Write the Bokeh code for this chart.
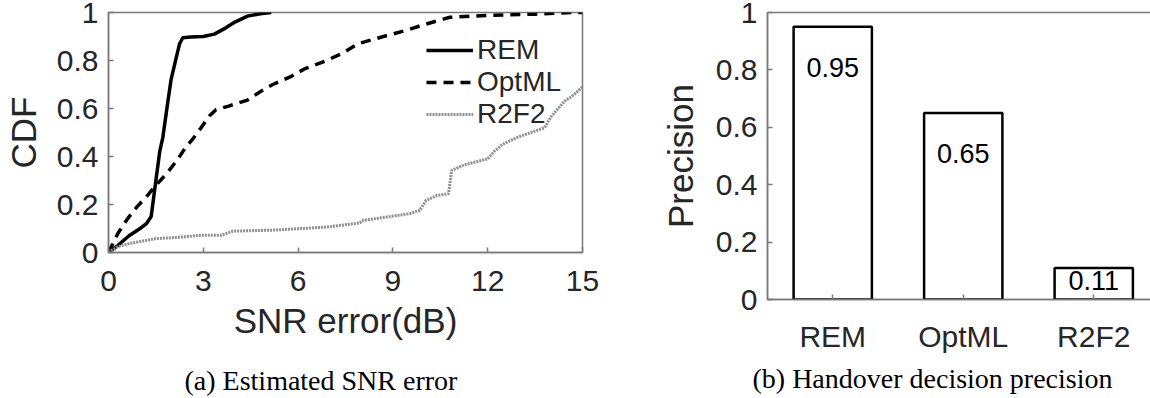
from bokeh.plotting import figure
from bokeh.layouts import row
from bokeh.models import (FixedTicker, Legend, LegendItem, Title,
                          ColumnDataSource, Range1d)
from bokeh.embed import file_html
from bokeh.resources import INLINE
from bokeh.core.properties import value

# ---------------- data ----------------
rem_x = [0, 0.3, 0.65, 1.0, 1.2, 1.35, 1.5, 1.62, 1.72, 1.88, 1.98, 2.14, 2.25, 2.35,
         2.6, 3.0, 3.35, 3.7, 4.0, 4.4, 4.8, 5.15]
rem_y = [0, 0.03, 0.07, 0.10, 0.12, 0.15, 0.30, 0.42, 0.48, 0.63, 0.72, 0.81, 0.87, 0.895,
         0.898, 0.90, 0.91, 0.935, 0.96, 0.985, 0.995, 1.0]

optml_x = [0, 0.3, 0.6, 0.9, 1.25, 1.5, 1.85, 2.2, 2.45, 2.65, 2.93, 3.2, 3.4, 3.8, 4.4,
           4.8, 5.2, 5.8, 6.2, 6.9, 7.4, 7.9, 8.7, 9.4, 10.0, 10.8, 11.5, 12.5, 13.5, 14.7, 15]
optml_y = [0, 0.08, 0.14, 0.19, 0.24, 0.28, 0.33, 0.39, 0.44, 0.47, 0.52, 0.57, 0.595, 0.61,
           0.635, 0.67, 0.70, 0.735, 0.765, 0.80, 0.83, 0.87, 0.90, 0.925, 0.95, 0.98, 0.985,
           0.99, 0.993, 1.0, 1.0]

r2f2_x = [0, 0.28, 0.65, 1.5, 2.1, 2.96, 3.57, 3.94, 5.15, 6.13, 6.98, 7.95, 8.07, 8.81,
          9.54, 9.85, 10.05, 10.4, 10.76, 10.86, 11.25, 12.0, 12.2, 12.46, 12.94, 13.8,
          14.0, 14.43, 14.66, 15.0]
r2f2_y = [0, 0.024, 0.037, 0.058, 0.062, 0.072, 0.072, 0.089, 0.093, 0.10, 0.107, 0.123,
          0.134, 0.148, 0.162, 0.176, 0.217, 0.238, 0.245, 0.342, 0.365, 0.39, 0.42, 0.45,
          0.48, 0.52, 0.565, 0.63, 0.65, 0.69]

cdf_xticks = [0, 3, 6, 9, 12, 15]
unit_yticks = [0, 0.2, 0.4, 0.6, 0.8, 1]

categories = ["REM", "OptML", "R2F2"]
precision = [0.95, 0.65, 0.11]
precision_text = ["0.95", "0.65", "0.11"]

# ---------------- style ----------------
FONT = "Liberation Sans"
SERIF = "Liberation Serif"
AX = "#7a7a7a"
TXT = "#262626"
TICK_FS = "30px"
LABEL_FS = "35px"


def style_axis(ax):
    ax.axis_line_color = AX
    ax.axis_line_width = 1.5
    ax.major_tick_line_color = AX
    ax.major_tick_line_width = 1.5
    ax.major_tick_in = 5
    ax.major_tick_out = 0
    ax.minor_tick_line_color = None
    ax.major_label_text_font = FONT
    ax.major_label_text_font_size = TICK_FS
    ax.major_label_text_color = TXT
    ax.axis_label_text_font = FONT
    ax.axis_label_text_font_size = LABEL_FS
    ax.axis_label_text_font_style = "normal"
    ax.axis_label_text_color = TXT


# ---------------- left: CDF ----------------
p1 = figure(frame_width=474, frame_height=240, min_border_left=104, min_border_top=12,
            min_border_right=30, min_border_bottom=146,
            x_range=Range1d(0, 15), y_range=Range1d(0, 1),
            output_backend="svg", toolbar_location=None, tools="")
p1.outline_line_color = AX
p1.outline_line_width = 1.5
p1.grid.visible = False
p1.background_fill_color = "white"
p1.border_fill_color = "white"

for ax in p1.xaxis:
    style_axis(ax)
    ax.ticker = FixedTicker(ticks=cdf_xticks)
    ax.axis_label = "SNR error(dB)"
    ax.major_label_standoff = 18
    ax.axis_label_standoff = 7
for ax in p1.yaxis:
    style_axis(ax)
    ax.ticker = FixedTicker(ticks=unit_yticks)
    ax.axis_label = "CDF"
    ax.major_label_standoff = 10
    ax.axis_label_standoff = 11
    ax.major_label_overrides = {0: "0", 1: "1"}

r_rem = p1.line(rem_x, rem_y, line_color="black", line_width=3.5)
r_opt = p1.line(optml_x, optml_y, line_color="black", line_width=3.5, line_dash="10 7")
r_r2 = p1.line(r2f2_x, r2f2_y, line_color="#8f8f8f", line_width=3, line_dash="2 1")

legend = Legend(items=[LegendItem(label="REM", renderers=[r_rem]),
                       LegendItem(label="OptML", renderers=[r_opt]),
                       LegendItem(label="R2F2", renderers=[r_r2])],
                location=(318, 122), border_line_color=None, background_fill_alpha=0,
                label_text_font=FONT, label_text_font_size="28px", label_text_color=TXT,
                glyph_width=47, glyph_height=30, label_height=30, spacing=0,
                padding=10, margin=0, label_standoff=4)
p1.add_layout(legend)

cap1 = Title(text="(a) Estimated SNR error", align="left", offset=76,
             text_font=SERIF, text_font_size="28px", text_font_style="normal",
             text_color="black", standoff=40)
p1.add_layout(cap1, "below")

# ---------------- right: bars ----------------
xs = list(range(1, len(categories) + 1))
p2 = figure(frame_width=387, frame_height=287, min_border_left=155, min_border_top=12,
            min_border_right=0, min_border_bottom=99,
            x_range=Range1d(0.5, 0.5 + 387 / 130.5), y_range=Range1d(0, 1),
            output_backend="svg", toolbar_location=None, tools="")
p2.outline_line_color = AX
p2.outline_line_width = 1.5
p2.grid.visible = False
p2.background_fill_color = "white"
p2.border_fill_color = "white"

for ax in p2.xaxis:
    style_axis(ax)
    ax.ticker = FixedTicker(ticks=xs)
    ax.major_label_overrides = {x: c for x, c in zip(xs, categories)}
    ax.major_label_standoff = 20
for ax in p2.yaxis:
    style_axis(ax)
    ax.ticker = FixedTicker(ticks=unit_yticks)
    ax.axis_label = "Precision"
    ax.major_label_standoff = 10
    ax.axis_label_standoff = 13
    ax.major_label_overrides = {0: "0", 1: "1"}

src = ColumnDataSource(dict(x=xs, top=precision, txt=precision_text,
                            ty=[v - 0.14 if v >= 0.2 else 0.6 * v for v in precision]))
p2.vbar(x="x", top="top", width=0.6, bottom=0, source=src,
        fill_color="white", line_color="black", line_width=2.5)
p2.text(x="x", y="ty", text="txt", source=src, text_align="center",
        text_baseline="middle", text_font=value(FONT), text_font_size="27px",
        text_color="black")

cap2 = Title(text="(b) Handover decision precision", align="left", offset=-15,
             text_font=SERIF, text_font_size="28px", text_font_style="normal",
             text_color="black", standoff=10)
p2.add_layout(cap2, "below")

layout = row(p1, p2)
open("out.html", "w").write(file_html(layout, INLINE))
